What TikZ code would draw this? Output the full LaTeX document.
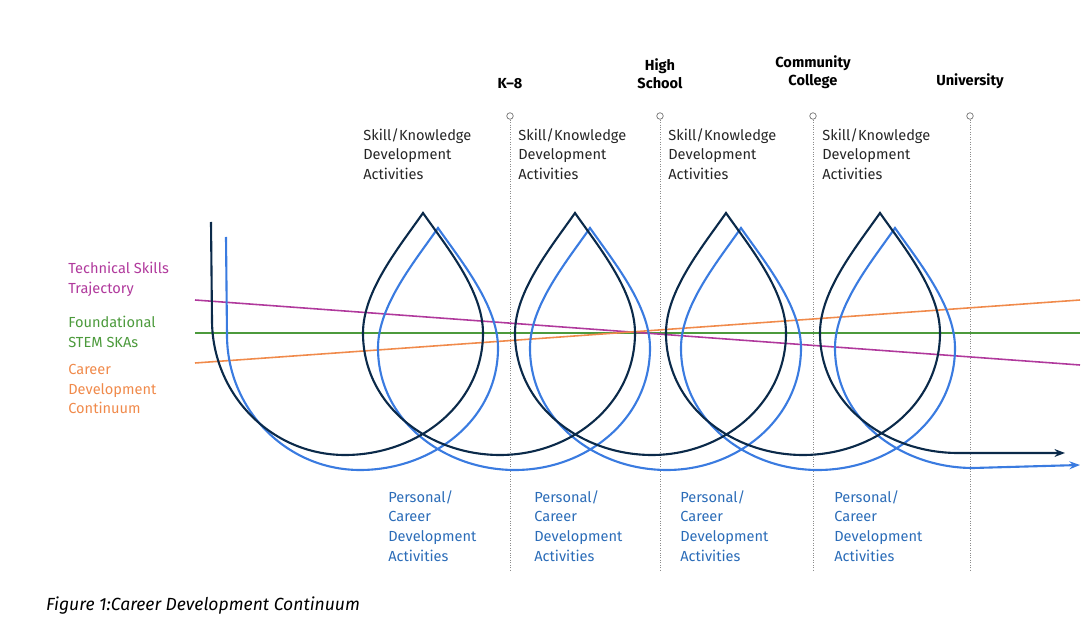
\documentclass[tikz,border=0pt]{standalone}
\usepackage{fontspec}
\setmainfont{Fira Sans}
\usetikzlibrary{arrows.meta}
\definecolor{navy}{HTML}{0B2A4A}
\definecolor{cblue}{HTML}{3A7BE0}
\definecolor{cpurple}{HTML}{B0399C}
\definecolor{cgreen}{HTML}{4C9A3C}
\definecolor{corange}{HTML}{F08A4B}
\definecolor{ctext}{HTML}{2B6CB8}
\tikzset{
stage/.style={font=\fontsize{8.3}{10}\selectfont\bfseries, align=center, anchor=south},
topact/.style={font=\fontsize{8.3}{11.2}\selectfont, align=left, anchor=north west, inner sep=0pt, text=black!85},
botact/.style={font=\fontsize{8.3}{11.2}\selectfont, align=left, anchor=north west, inner sep=0pt, text=ctext},
sidelab/.style={font=\fontsize{8.3}{11.2}\selectfont, align=left, anchor=north west, inner sep=0pt},
divider/.style={densely dotted, black!45, thin},
pin/.style={circle, draw=black!55, fill=white, inner sep=0pt, minimum size=1.3mm},
spiral/.style={line width=1.2pt, -{Stealth[length=6pt]}},
trend/.style={line width=0.9pt},
}
\begin{document}
\begin{tikzpicture}[x=0.02cm,y=-0.02cm]
\useasboundingbox (0,0) rectangle (1090,638);
% stage dividers
\foreach \x/\n/\t in {510/k8/K--8, 660/hs/High\\School, 813/cc/Community\\College, 970/uni/University}{
  \node[pin] (\n) at (\x,116) {};
  \node[stage] at (\x,95) {\t};
  \coordinate (\n-end) at (\x,572);
  \draw[divider] (\n) -- (\n-end);
}
% activity labels
\foreach \x in {363,518,668,822}
  \node[topact] at (\x,128) {Skill/Knowledge\\Development\\Activities};
\foreach \x in {388,534,680,834}
  \node[botact] at (\x,490) {Personal/\\Career\\Development\\Activities};
% trend lines
\coordinate (p1) at (195,300); \coordinate (p2) at (1080,365);
\coordinate (g1) at (195,333); \coordinate (g2) at (1080,333);
\coordinate (o1) at (195,363); \coordinate (o2) at (1080,300);
\draw[trend,cgreen] (g1) -- (g2);
\draw[trend,cpurple] (p1) -- (p2);
\draw[trend,corange] (o1) -- (o2);
\node[sidelab,text=cpurple] at (68,262) {Technical Skills\\Trajectory};
\node[sidelab,text=cgreen] at (68,316) {Foundational\\STEM SKAs};
\node[sidelab,text=corange] at (68,364) {Career\\Development\\Continuum};
% spirals
\foreach \col/\dx/\dy/\ex/\ey in {cblue/15/15/1080/465, navy/0/0/1065/453}{
\begin{scope}[shift={(\dx,\dy)}]
\draw[spiral,\col] (211,222) -- (212,320) to[out=-90,in=180] (345,455)
  to[out=0,in=-90] (483,333) to[out=90,in=-55,looseness=0.8] (423,213) to[out=-125,in=90,looseness=0.8] (363,333) to[out=-90,in=180] (500,455)
  to[out=0,in=-90] (635,333) to[out=90,in=-55,looseness=0.8] (575,213) to[out=-125,in=90,looseness=0.8] (515,333) to[out=-90,in=180] (652,455)
  to[out=0,in=-90] (786,333) to[out=90,in=-55,looseness=0.8] (726,213) to[out=-125,in=90,looseness=0.8] (666,333) to[out=-90,in=180] (803,455)
  to[out=0,in=-90] (940,333) to[out=90,in=-55,looseness=0.8] (880,213) to[out=-125,in=90,looseness=0.8] (820,333) to[out=-90,in=180] (958,453)
  -- (\ex-\dx,\ey-\dy);
\end{scope}}
% caption
\node[anchor=west, font=\fontsize{10}{12}\selectfont\itshape] at (40,606) {Figure 1:Career Development Continuum};
\end{tikzpicture}
\end{document}
